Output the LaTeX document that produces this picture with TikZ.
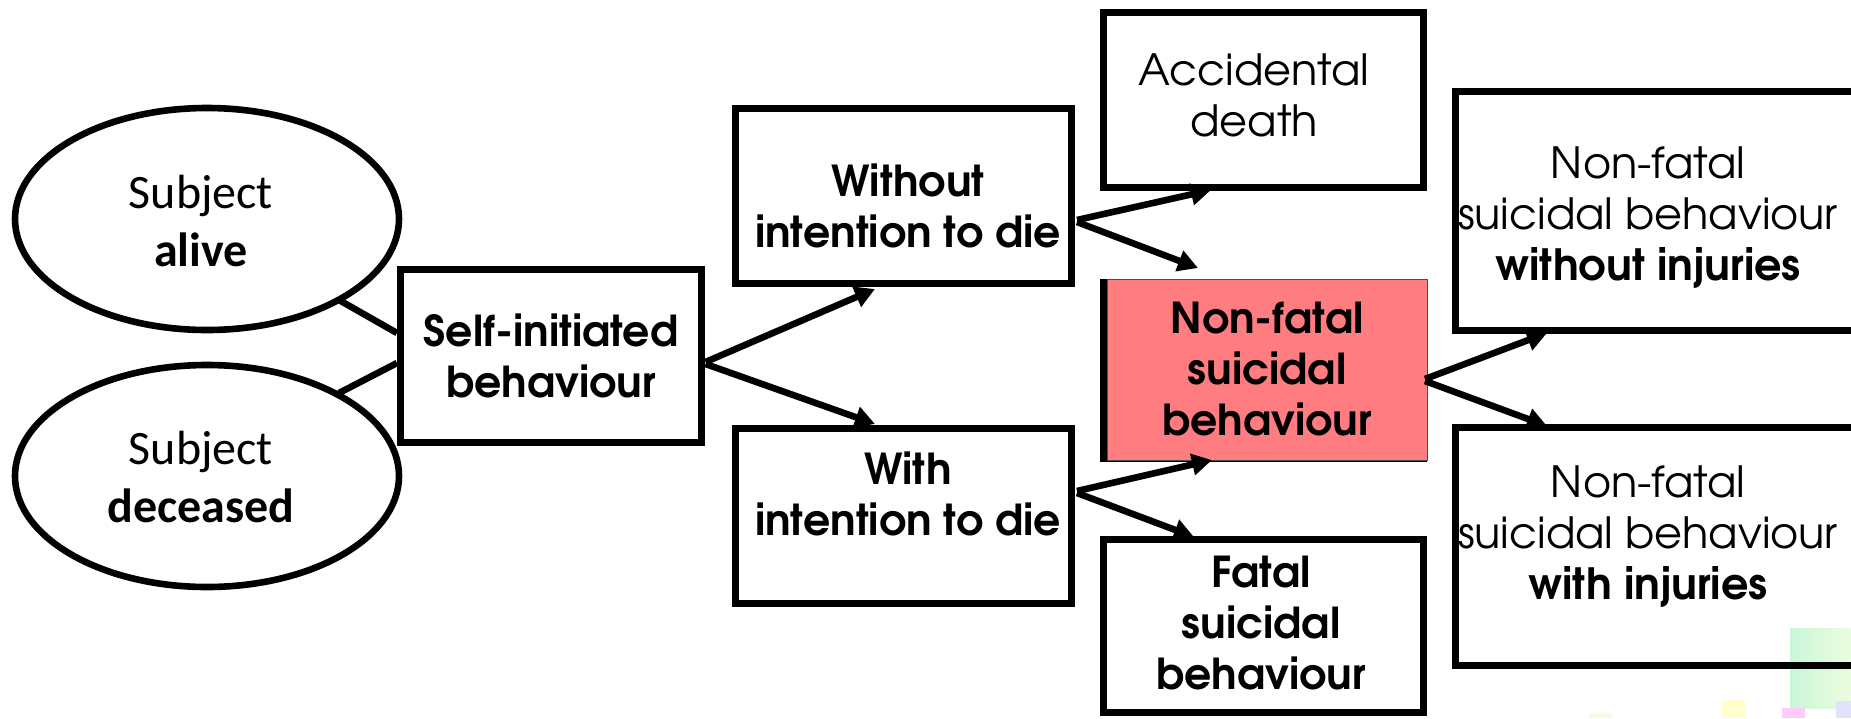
\documentclass[tikz,border=0pt]{standalone}
\usepackage{fontspec}
\newfontfamily\adv{TeX Gyre Adventor}
\newfontfamily\calib{Carlito}
\usetikzlibrary{arrows.meta,shapes.geometric,calc}
\definecolor{pinkfill}{RGB}{255,124,128}
\definecolor{decogreenA}{RGB}{200,248,216}
\definecolor{decogreenB}{RGB}{236,252,222}
\definecolor{decoyellow}{RGB}{255,255,204}
\definecolor{decoyellowB}{RGB}{250,250,222}
\definecolor{decopink}{RGB}{255,204,250}
\definecolor{decolav}{RGB}{226,226,255}
\begin{document}
\begin{tikzpicture}[x=0.5pt,y=-0.5pt,
  boxnode/.style={draw,line width=3.9pt,inner sep=0pt,outer sep=0pt},
  ellnode/.style={ellipse,draw,line width=3.3pt,inner sep=0pt,outer sep=0pt,
    minimum width=192pt,minimum height=111pt},
  txtc/.style={inner sep=0pt,align=center,font=\calib\fontsize{24}{29}\selectfont},
  txtb/.style={inner sep=0pt,align=center,font=\adv\bfseries\fontsize{21.3}{25.5}\selectfont},
  txtr/.style={inner sep=0pt,align=center,font=\adv\fontsize{21.5}{25.5}\selectfont},
  arr/.style={line width=3.3pt,-{Triangle[length=10pt,width=10.5pt]}},
  link/.style={line width=3.3pt}]
\useasboundingbox (0,0) rectangle (1851,718);
\clip (0,0) rectangle (1851,718);
\fill[white] (0,0) rectangle (1851,718);

% faint decoration, bottom right
\shade[left color=decogreenA,right color=decogreenB] (1790,628) rectangle (1851,708);
\fill[decoyellow] (1722,700) rectangle (1745,718);
\fill[decoyellowB] (1589,713) rectangle (1612,718);
\fill[decopink] (1782,708) rectangle (1805,718);
\fill[decolav] (1836,701) rectangle (1851,718);

% ellipses
\node[ellnode] (e1) at (207,219) {};
\node[ellnode] (e2) at (207,476) {};
\node[txtc] (e1t) at (201,221) {Subject\\\textbf{alive}};
\node[txtc] (e2t) at (201,477) {Subject\\\textbf{deceased}};

% boxes
\node[boxnode,minimum width=150.5pt,minimum height=86.5pt,txtb] (sib) at (551,356) {Self-initiated\\behaviour};
\node[boxnode,minimum width=168pt,minimum height=87.5pt] (wo) at (903.5,196) {};
\node[boxnode,minimum width=168pt,minimum height=87.5pt] (wi) at (903.5,516) {};
\node[boxnode,minimum width=160pt,minimum height=87.5pt] (acc) at (1263.5,100) {};
\node[boxnode,minimum width=160pt,minimum height=88pt] (nf) at (1263.5,370.5) {};
\node[fill=pinkfill,draw=black!70,line width=0.5pt,inner sep=0pt,outer sep=0pt,
      minimum width=160pt,minimum height=90.5pt,txtb] (nfp) at (1267,369.5)
      {Non-fatal\\suicidal\\behaviour};
\node[boxnode,minimum width=160pt,minimum height=86.5pt] (fat) at (1263.5,626) {};
\node[boxnode,minimum width=222.25pt,minimum height=119.5pt] (rt) at (1677.75,211) {};
\node[boxnode,minimum width=222.25pt,minimum height=119pt] (rb) at (1677.75,546.5) {};

% texts
\node[txtb] (wot) at (908,206) {Without\\intention to die};
\node[txtb] (wit) at (908,494) {With\\intention to die};
\node[txtb] (fatt) at (1261,623) {Fatal\\suicidal\\behaviour};
\node[txtr] (acct) at (1254,95.5) {Accidental\\death};
\node[txtr] (rtt) at (1648,218) {Non-fatal\\suicidal behaviour\\\textbf{without injuries}};
\node[txtr] (rbt) at (1648,537) {Non-fatal\\suicidal behaviour\\\textbf{with injuries}};

% connectors
\draw[link] ($(e1.center)+(132,81)$) -- ($(sib.west)+(-3.5,-23)$);
\draw[link] ($(e2.center)+(132,-83)$) -- ($(sib.west)+(-3.5,7)$);

\draw[arr] ($(sib.east)+(4,6)$) -- ($(wo.south)+(-28.5,5.5)$);
\draw[arr] ($(sib.east)+(4,8)$) -- ($(wi.north)+(-28.5,-4.5)$);
\draw[arr] ($(wo.east)+(5.5,24)$) -- ($(acc.south)+(-52.5,2.5)$);
\draw[arr] ($(wo.east)+(5.5,26)$) -- ($(nf.north)+(-65.5,-14.5)$);
\draw[arr] ($(wi.east)+(5.5,-25)$) -- ($(nf.south)+(-51.5,1.5)$);
\draw[arr] ($(wi.east)+(5.5,-23)$) -- ($(fat.north)+(-69.5,-2.5)$);
\draw[arr] ($(nfp.east)+(-2,9.5)$) -- ($(rt.south west)+(91.5,2.5)$);
\draw[arr] ($(nfp.east)+(-2,11.5)$) -- ($(rb.north west)+(91.5,-1.5)$);
\end{tikzpicture}
\end{document}
